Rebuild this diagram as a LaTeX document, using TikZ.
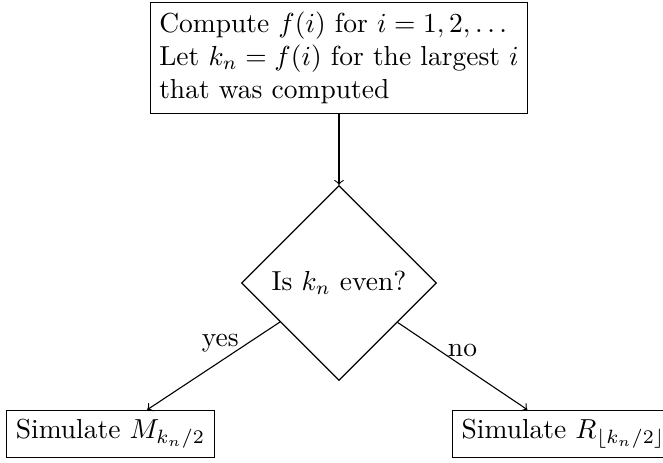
\documentclass[tikz,border=0pt]{standalone}
\usetikzlibrary{shapes.geometric}
\begin{document}
\begin{tikzpicture}[x=0.3636pt,y=-0.3636pt,
  box/.style={draw,rectangle,inner sep=3.33pt},
  decision/.style={draw,diamond,aspect=1,inner sep=3.33pt},
  conn/.style={->}]
\useasboundingbox (0,0) rectangle (663,462);
\node[box,align=left] (top) at (339,58) {Compute $f(i)$ for $i=1,2,\ldots$\\Let $k_n=f(i)$ for the largest $i$\\that was computed};
\node[decision] (d) at (339,283) {Is $k_n$ even?};
\node[box] (l) at (110.5,434) {Simulate $M_{k_n/2}$};
\node[box] (r) at (563.5,434) {Simulate $R_{\lfloor k_n/2\rfloor}$};
\draw[conn] (top) -- (d);
\draw[conn] (d) -- node[pos=0.45,above] {yes} (l);
\draw[conn] (d) -- node[pos=0.5,above] {no} (r);
\end{tikzpicture}
\end{document}
